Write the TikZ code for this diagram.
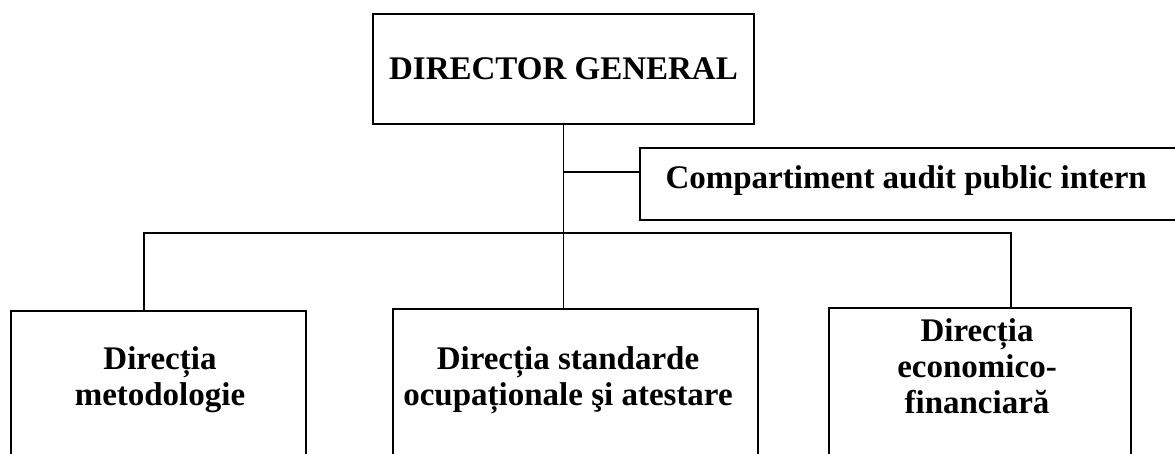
\documentclass[tikz,border=0pt]{standalone}
\usepackage{fontspec}
\setmainfont{Liberation Serif}
\usetikzlibrary{positioning}

\begin{document}
\begin{tikzpicture}[x=1pt,y=-1pt,
        unit/.style={draw, rectangle, line width=1.8pt, inner sep=0pt},
        txt/.style={align=center, font=\bfseries\fontsize{33}{36}\selectfont},
        link/.style={line width=1.8pt}
      ]

    \useasboundingbox (0,0) rectangle (1175,453);
    \clip (0,0) rectangle (1175,453);

    % top level
    \node[unit, txt, minimum width=381pt, minimum height=110pt] (director) at (563.5,69) {DIRECTOR GENERAL};

    % staff unit
    \node[unit, anchor=north west, minimum width=600pt, minimum height=72pt] (audit) at (639,147) {};
    \node[txt, anchor=base west] (audittxt) at (662,188) {Compartiment audit public intern};

    % directions
    \node[unit, anchor=north west, minimum width=295pt, minimum height=200pt] (metod) at (10,310) {};
    \node[unit, anchor=north west, minimum width=365pt, minimum height=200pt] (stand) at (392,308) {};
    \node[unit, anchor=north west, minimum width=302pt, minimum height=200pt] (econ) at (828,307) {};

    \node[txt] (metodtxt) at (160,380) {Direcția\\metodologie};
    \node[txt] (standtxt) at (568,380) {Direcția standarde\\ocupaționale şi atestare};
    \node[txt] (econtxt) at (977,366) {Direcția\\economico-\\financiară};

    % connectors
    \coordinate (audj) at (563.5,172);
    \coordinate (busl) at (144,233);
    \coordinate (busr) at (1011,233);
    \draw[link] (director.south) -- (director.south |- stand.north);
    \draw[link] (audj) -- (audj -| audit.west);
    \draw[link] (busl |- metod.north) -- (busl) -- (busr) -- (busr |- econ.north);

\end{tikzpicture}
\end{document}
